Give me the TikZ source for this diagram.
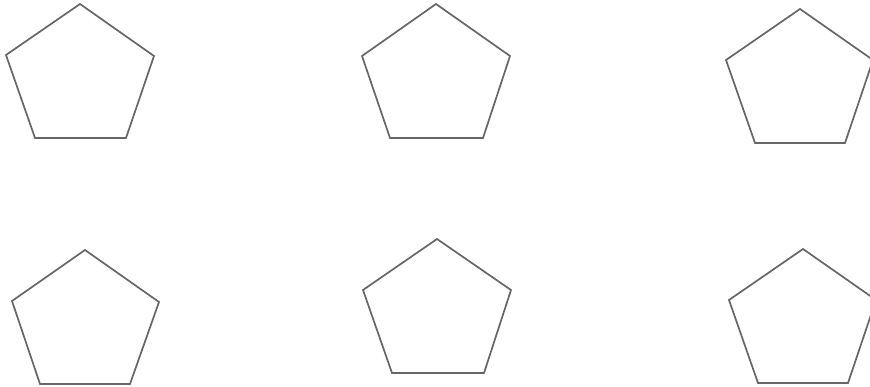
\documentclass[tikz,border=0pt]{standalone}
\begin{document}
\begin{tikzpicture}[x=1pt,y=-1pt,pent/.style={draw=black!60,line width=1.7pt,line join=miter}]
\useasboundingbox (0,0) rectangle (870,387);
\clip (0,0) rectangle (870,387);
\draw[pent] (80,4) -- (154,56) -- (126,138) -- (35,138) -- (6,55) -- cycle;
\draw[pent] (436,4) -- (510,56) -- (483,138) -- (390,138) -- (362,56) -- cycle;
\draw[pent] (800,9) -- (873,60) -- (845,143) -- (755,143) -- (726,60) -- cycle;
\draw[pent] (85,250) -- (159,302) -- (130,384) -- (40,384) -- (12,301) -- cycle;
\draw[pent] (437,239) -- (511,290) -- (484,373) -- (392,373) -- (363,290) -- cycle;
\draw[pent] (803,249) -- (876,300) -- (848,383) -- (758,383) -- (729,300) -- cycle;
\end{tikzpicture}
\end{document}
